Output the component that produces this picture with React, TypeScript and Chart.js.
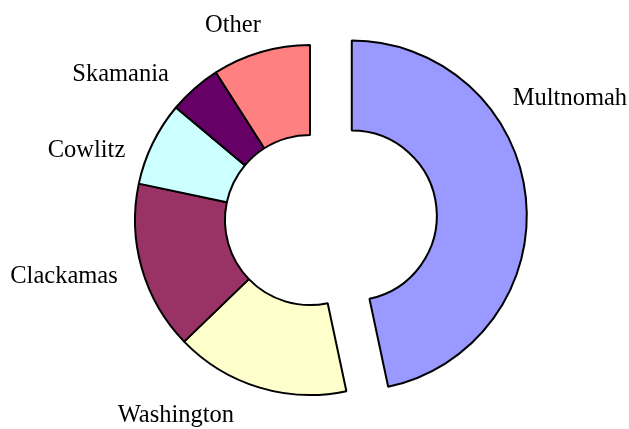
import React, { useEffect, useRef } from "react";
import { Chart, registerables, ArcElement } from "chart.js";

Chart.register(...registerables);

const labels = ["Multnomah", "Washington", "Clackamas", "Cowlitz", "Skamania", "Other"];
const values = [46.67, 16.11, 15.56, 7.78, 4.86, 9.03];
const colors = ["#9999FF", "#FFFFCC", "#993366", "#CCFFFF", "#660066", "#FF8080"];
const explode = [42, 0, 0, 0, 0, 0];

// label placement: [angle from 12 o'clock (deg, clockwise), distance from centre (px)]
const labelPolar: [number, number][] = [
  [66.1, 284.3],
  [213.6, 242.4],
  [255.6, 254],
  [285.7, 232.2],
  [306.3, 235],
  [337.7, 203.2],
];

// Pull slices out along their bisector without growing their radii
const explodeSlices = {
  id: "explodeSlices",
  afterDatasetsUpdate(chart: any) {
    const meta = chart.getDatasetMeta(0);
    meta.data.forEach((el: any, i: number) => {
      const d = explode[i] || 0;
      if (!d) return;
      el.draw = function (ctx: CanvasRenderingContext2D, area: any) {
        const mid = (this.startAngle + this.endAngle) / 2;
        ctx.save();
        ctx.translate(Math.cos(mid) * d, Math.sin(mid) * d);
        ArcElement.prototype.draw.call(this, ctx, area);
        ctx.restore();
      };
    });
  },
};

const outsideLabels = {
  id: "outsideLabels",
  afterDraw(chart: any) {
    const meta = chart.getDatasetMeta(0);
    const arc = meta.data[1];
    if (!arc) return;
    const cx = arc.x;
    const cy = arc.y;
    const ctx = chart.ctx;
    ctx.save();
    ctx.font = '24.5px "Liberation Serif", "Times New Roman", serif';
    ctx.fillStyle = "#000000";
    ctx.textAlign = "center";
    ctx.textBaseline = "alphabetic";
    labels.forEach((t, i) => {
      const [a, d] = labelPolar[i];
      const rad = (a * Math.PI) / 180;
      ctx.fillText(t, cx + Math.sin(rad) * d, cy - Math.cos(rad) * d);
    });
    ctx.restore();
  },
};

export default function App() {
  const ref = useRef<HTMLCanvasElement | null>(null);
  useEffect(() => {
    if (!ref.current) return;
    const chart = new Chart(ref.current, {
      type: "doughnut",
      data: {
        labels,
        datasets: [
          {
            data: values,
            backgroundColor: colors,
            borderColor: "#000000",
            borderWidth: 2,
            offset: 0,
            hoverOffset: 0,
          },
        ],
      },
      options: {
        animation: false,
        responsive: true,
        maintainAspectRatio: false,
        radius: 175,
        cutout: "48.6%",
        layout: { padding: { left: 0, right: 9, top: 11, bottom: 0 } },
        plugins: {
          legend: { display: false },
          tooltip: { enabled: false },
        },
      } as any,
      plugins: [explodeSlices, outsideLabels],
    });
    return () => chart.destroy();
  }, []);
  return (
    <div style={{ position: "absolute", left: 0, top: 0, width: 629, height: 429, background: "#ffffff" }}>
      <canvas ref={ref} />
    </div>
  );
}
